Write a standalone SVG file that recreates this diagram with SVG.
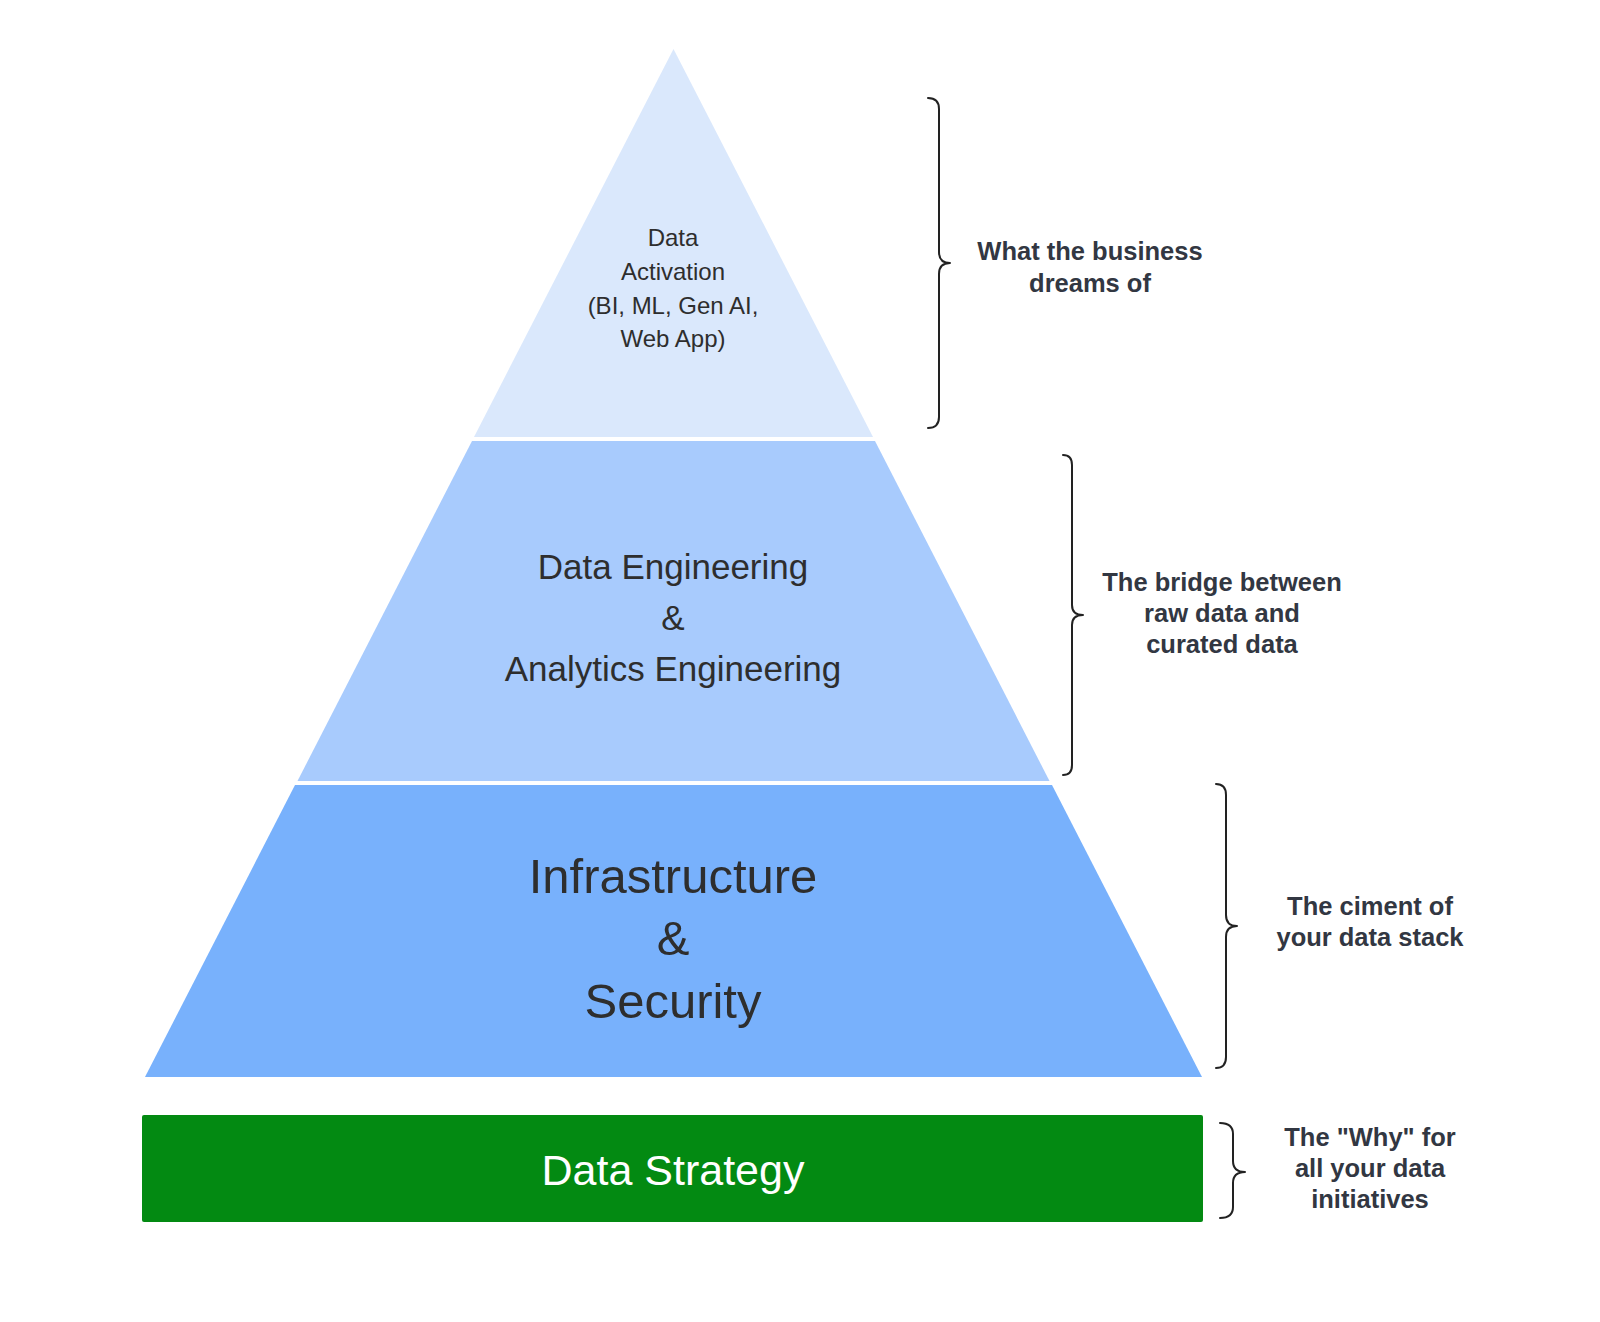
<svg xmlns="http://www.w3.org/2000/svg" width="1600" height="1322" viewBox="0 0 1600 1322">
<style>
.tier text{font-family:"Liberation Sans",Arial,sans-serif;fill:#2e2e2e;text-anchor:middle}
.note{font-family:"Liberation Sans",Arial,sans-serif;font-weight:bold;font-size:25.5px;fill:#323742;text-anchor:middle}
.brace{fill:none;stroke:#222;stroke-width:2;stroke-linecap:round;stroke-linejoin:round}
</style>
<rect width="1600" height="1322" fill="#ffffff"/>
<g id="tier-activation" class="tier">
<polygon points="673.5,49 873,437 474,437" fill="#dae8fc"/>
<text font-size="24"><tspan x="673" y="246">Data</tspan><tspan x="673" y="280">Activation</tspan><tspan x="673" y="314">(BI, ML, Gen AI,</tspan><tspan x="673" y="347">Web App)</tspan></text>
</g>
<g id="tier-engineering" class="tier">
<polygon points="472,441 875,441 1049.5,781 297.5,781" fill="#a8cbfd"/>
<text font-size="35"><tspan x="673" y="579">Data Engineering</tspan><tspan x="673" y="630">&amp;</tspan><tspan x="673" y="681">Analytics Engineering</tspan></text>
</g>
<g id="tier-infrastructure" class="tier">
<polygon points="295,785 1052,785 1202,1077 145,1077" fill="#78b1fc"/>
<text font-size="49"><tspan x="673" y="893">Infrastructure</tspan><tspan x="673" y="955">&amp;</tspan><tspan x="673" y="1018">Security</tspan></text>
</g>
<g id="data-strategy" class="tier">
<rect x="142" y="1115" width="1061" height="107" rx="2" fill="#038a12"/>
<text x="673" y="1185" font-size="43" style="fill:#ffffff">Data Strategy</text>
</g>
<g id="connectors">
<path class="brace" d="M928,98 Q939,98 939,109 L939,252 Q939,263 950,263 Q939,263 939,274 L939,417 Q939,428 928,428"/>
<path class="brace" d="M1063,455 Q1072,455 1072,465 L1072,605 Q1072,615 1083,615 Q1072,615 1072,625 L1072,765 Q1072,775 1063,775"/>
<path class="brace" d="M1216,784 Q1226,784 1226,795 L1226,915 Q1226,926 1237,926 Q1226,926 1226,937 L1226,1057 Q1226,1068 1216,1068"/>
<path class="brace" d="M1220,1123 Q1233,1123 1233,1134 L1233,1161 Q1233,1172 1245,1172 Q1233,1172 1233,1183 L1233,1207 Q1233,1218 1220,1218"/>
</g>
<g id="note-activation"><text class="note"><tspan x="1090" y="260">What the business</tspan><tspan x="1090" y="292">dreams of</tspan></text></g>
<g id="note-engineering"><text class="note"><tspan x="1222" y="591">The bridge between</tspan><tspan x="1222" y="622">raw data and</tspan><tspan x="1222" y="653">curated data</tspan></text></g>
<g id="note-infrastructure"><text class="note"><tspan x="1370" y="915">The ciment of</tspan><tspan x="1370" y="946">your data stack</tspan></text></g>
<g id="note-strategy"><text class="note"><tspan x="1370" y="1146">The "Why" for</tspan><tspan x="1370" y="1177">all your data</tspan><tspan x="1370" y="1208">initiatives</tspan></text></g>
</svg>
